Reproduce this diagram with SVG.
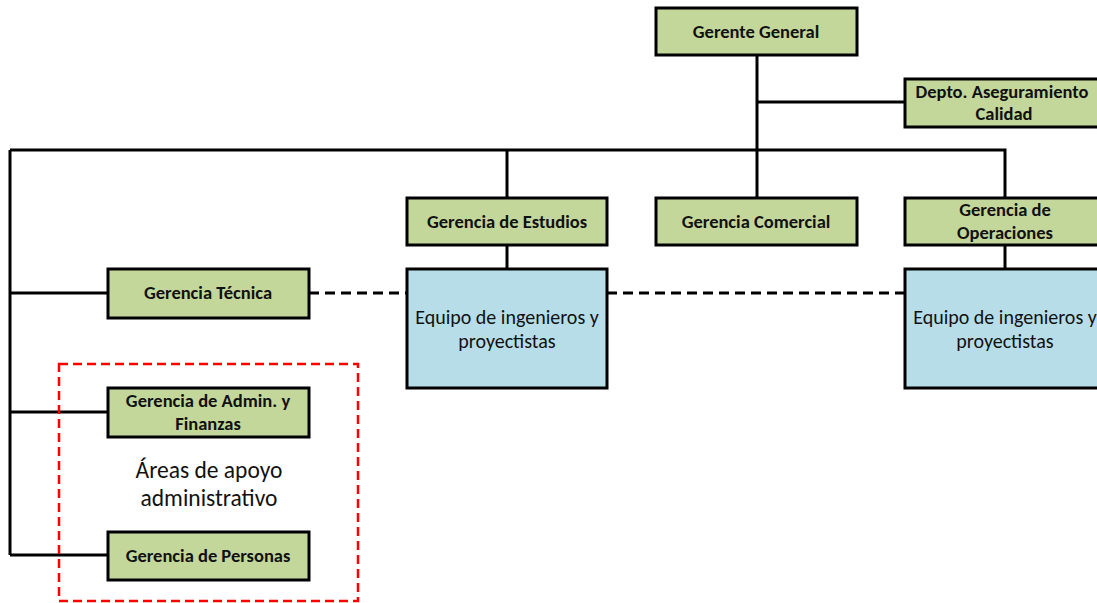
<svg xmlns="http://www.w3.org/2000/svg" width="1097" height="603" viewBox="0 0 1097 603">
<style>
.g{fill:#C4D79B;stroke:#000;stroke-width:3}
.b{fill:#B7DEE8;stroke:#000;stroke-width:3}
.t{font-family:Carlito,"Liberation Sans",Arial,sans-serif;font-weight:bold;font-size:18.5px;text-anchor:middle;fill:#111}
.r{font-family:Carlito,"Liberation Sans",Arial,sans-serif;font-size:20px;text-anchor:middle;fill:#111}
.a{font-family:Carlito,"Liberation Sans",Arial,sans-serif;font-size:23.5px;text-anchor:middle;fill:#111}
.l{fill:none;stroke:#000;stroke-width:3}
.d{fill:none;stroke:#000;stroke-width:3;stroke-dasharray:10 6}
</style>
<rect width="1097" height="603" fill="#fff"/>
<g id="connectors">
<path class="l" d="M757 55V198M757 102H905M10 150H1005V198M507 150V198M507 245V269M1005 245V269M10 150V555M10 293H108M10 412H108M10 555H108"/>
<path class="d" d="M309 293H407M607 293H905"/>
</g>
<g id="grupo-apoyo">
<rect x="59" y="364" width="299" height="237" fill="none" stroke="#FF0000" stroke-width="2.5" stroke-dasharray="9 5"/>
<text class="a" x="209" y="478">Áreas de apoyo</text>
<text class="a" x="209" y="506">administrativo</text>
</g>
<g id="gerente-general"><rect class="g" x="656" y="8" width="201" height="47"/><text class="t" x="756" y="38">Gerente General</text></g>
<g id="depto-calidad"><rect class="g" x="905" y="79" width="201" height="48"/><text class="t" x="1002" y="98">Depto. Aseguramiento</text><text class="t" x="1004" y="120">Calidad</text></g>
<g id="gerencia-estudios"><rect class="g" x="407" y="198" width="200" height="47"/><text class="t" x="507" y="228">Gerencia de Estudios</text></g>
<g id="gerencia-comercial"><rect class="g" x="656" y="198" width="201" height="47"/><text class="t" x="756" y="228">Gerencia Comercial</text></g>
<g id="gerencia-operaciones"><rect class="g" x="905" y="198" width="201" height="47"/><text class="t" x="1005" y="216">Gerencia de</text><text class="t" x="1005" y="239">Operaciones</text></g>
<g id="gerencia-tecnica"><rect class="g" x="108" y="269" width="201" height="49"/><text class="t" x="208" y="299">Gerencia Técnica</text></g>
<g id="equipo-estudios"><rect class="b" x="407" y="269" width="200" height="119"/><text class="r" x="507" y="324">Equipo de ingenieros y</text><text class="r" x="507" y="348">proyectistas</text></g>
<g id="equipo-operaciones"><rect class="b" x="905" y="269" width="201" height="119"/><text class="r" x="1005" y="324">Equipo de ingenieros y</text><text class="r" x="1005" y="348">proyectistas</text></g>
<g id="gerencia-admin"><rect class="g" x="108" y="388" width="201" height="49"/><text class="t" x="208" y="407">Gerencia de Admin. y</text><text class="t" x="208" y="430">Finanzas</text></g>
<g id="gerencia-personas"><rect class="g" x="108" y="532" width="201" height="48"/><text class="t" x="208" y="562">Gerencia de Personas</text></g>
</svg>
